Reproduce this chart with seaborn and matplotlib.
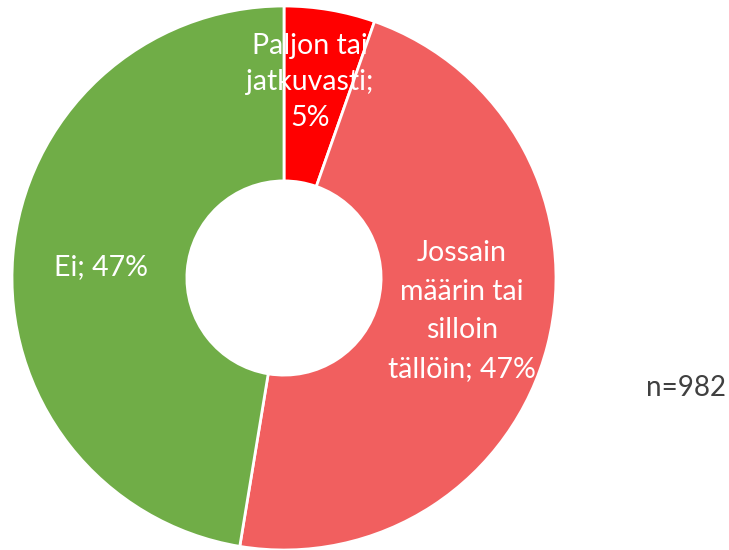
import matplotlib
matplotlib.use("Agg")
import matplotlib.pyplot as plt
import seaborn as sns

categories = ["Paljon tai\njatkuvasti;\n5%", "Jossain\nmäärin tai\nsilloin\ntällöin; 47%", "Ei; 47%"]
values = [5.4, 47.2, 47.4]
colors = ["#FF0000", "#F15F5F", "#70AD47"]
label_pos = [(0.096, 0.72), (0.654, -0.121), (-0.673, 0.04)]
n_text = "n=982"

sns.set_theme(style="white")
plt.rcParams['font.family'] = ['Lato', 'DejaVu Sans']

fig = plt.figure(figsize=(7.29, 5.5), dpi=100)
ax = fig.add_axes([12/729, 0/550, 544/729, 544/550])
wedges, _ = ax.pie(values, colors=colors, startangle=90, counterclock=False,
                   radius=1.0, wedgeprops=dict(width=1 - 0.357, edgecolor="white", linewidth=2))
ax.set_xlim(-1, 1)
ax.set_ylim(-1, 1)
ax.set_aspect("equal")
ax.axis("off")

spacings = [1.48, 1.6, 1.2]
for lab, (x, y), ls in zip(categories, label_pos, spacings):
    ax.text(x, y, lab, ha="center", va="center", color="white", fontsize=20.5,
            linespacing=ls)

fig.text(686/729, 1 - 388/550, n_text, ha="center", va="center", color="#404040", fontsize=20)

fig.savefig("out.png", dpi=100, facecolor="white")
